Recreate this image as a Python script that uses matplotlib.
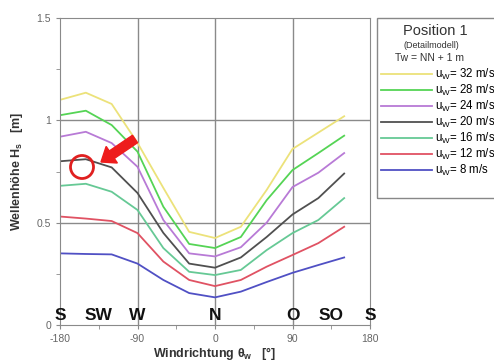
import matplotlib
matplotlib.use("Agg")
import matplotlib.pyplot as plt
from matplotlib.patches import Circle, FancyArrow, Rectangle

plt.rcParams['font.family'] = ['Liberation Sans', 'DejaVu Sans']
plt.rcParams['mathtext.fontset'] = 'custom'
plt.rcParams['mathtext.rm'] = 'Liberation Sans'
plt.rcParams['mathtext.default'] = 'regular'
plt.rcParams['axes.unicode_minus'] = False

# wind direction [deg]
theta = [-180, -150, -120, -90, -60, -30, 0, 30, 60, 90, 120, 150]

# wave height Hs [m] per wind speed
hs_32 = [1.10, 1.135, 1.08, 0.89, 0.67, 0.455, 0.425, 0.48, 0.66, 0.86, 0.94, 1.02]
hs_28 = [1.025, 1.047, 0.977, 0.847, 0.578, 0.396, 0.376, 0.43, 0.61, 0.757, 0.84, 0.925]
hs_24 = [0.92, 0.944, 0.889, 0.773, 0.513, 0.35, 0.335, 0.38, 0.50, 0.674, 0.744, 0.84]
hs_20 = [0.80, 0.81, 0.77, 0.645, 0.45, 0.30, 0.28, 0.33, 0.43, 0.54, 0.62, 0.74]
hs_16 = [0.68, 0.69, 0.651, 0.562, 0.376, 0.26, 0.244, 0.269, 0.366, 0.449, 0.513, 0.62]
hs_12 = [0.53, 0.52, 0.508, 0.449, 0.31, 0.22, 0.19, 0.22, 0.285, 0.342, 0.40, 0.48]
hs_8 = [0.35, 0.347, 0.345, 0.30, 0.22, 0.156, 0.135, 0.163, 0.21, 0.255, 0.293, 0.33]

speeds = [32, 28, 24, 20, 16, 12, 8]
series = [hs_32, hs_28, hs_24, hs_20, hs_16, hs_12, hs_8]
colors = ['#ece27a', '#55d455', '#b87ad6', '#505050', '#66c995', '#e05263', '#5050c4']

compass = ['S', 'SW', 'W', 'N', 'O', 'SO', 'S']
compass_pos = [-180, -135, -90, 0, 90, 135, 180]

fig = plt.figure(figsize=(4.94, 3.61), dpi=100)
ax = fig.add_axes([60/494, 1-325/361, 310/494, 307/361])

lines = []
for hs, c in zip(series, colors):
    ln, = ax.plot(theta, hs, color=c, lw=1.3)
    lines.append(ln)

ax.set_xlim(-180, 180)
ax.set_ylim(0, 1.5)
ax.set_xticks([-180, -90, 0, 90, 180])
ax.set_xticks([-135, -45, 45, 135], minor=True)
ax.set_yticks([0, 0.5, 1, 1.5])
ax.set_yticklabels(['0', '0.5', '1', '1.5'])
ax.set_yticks([0.25, 0.75, 1.25], minor=True)
for v in [-90, 0, 90]:
    ax.axvline(v, color='#8a8a8a', lw=1, zorder=0)
for v in [0.5, 1]:
    ax.axhline(v, color='#8a8a8a', lw=1, zorder=0)
for s in ax.spines.values():
    s.set_color('#8a8a8a')
ax.tick_params(which='both', colors='#8a8a8a', labelcolor='#666666', labelsize=7.5, length=3)

for lab, p in zip(compass, compass_pos):
    ax.text(p, 0.045, lab, ha='center', va='center', fontsize=12.5, fontweight='bold', color='#111111')

ax.set_xlabel(r'Windrichtung $\theta_w$   [°]', fontsize=9, fontweight='bold', color='#333333', labelpad=1)
ax.set_ylabel(r'Wellenhöhe $H_s$   [m]', fontsize=9, fontweight='bold', color='#333333', labelpad=8)

# red marker circle and arrow
circ = Circle((82, 361-167), 11.5, transform=None, fill=False, ec='#e02020', lw=2)
fig.add_artist(circ)
arr = FancyArrow(135, 361-139, -34, -23, width=9, head_width=20, head_length=13,
                 length_includes_head=True, transform=None, color='#ee1c1c')
fig.add_artist(arr)

# legend box
fig.add_artist(Rectangle((377/494, 1-198/361), 130/494, 180/361, transform=fig.transFigure,
                         fill=False, ec='#888888', lw=1))
fig.text(403/494, 1-31/361, 'Position 1', fontsize=10.5, color='#333333', va='center')
fig.text(403/494, 1-46/361, '(Detailmodell)', fontsize=6.5, color='#333333', va='center')
fig.text(395/494, 1-58/361, 'Tw = NN + 1 m', fontsize=7.5, color='#333333', va='center')
labels = ['$u_W$= %d m/s' % s for s in speeds]
ax.legend(lines, labels, loc='upper left', bbox_to_anchor=(381/494, 1-67/361),
          bbox_transform=fig.transFigure, frameon=False, fontsize=8.3, handlelength=4.4,
          handletextpad=0.25, labelspacing=0.08, borderaxespad=0, borderpad=0)

fig.savefig('out.png', dpi=100)
